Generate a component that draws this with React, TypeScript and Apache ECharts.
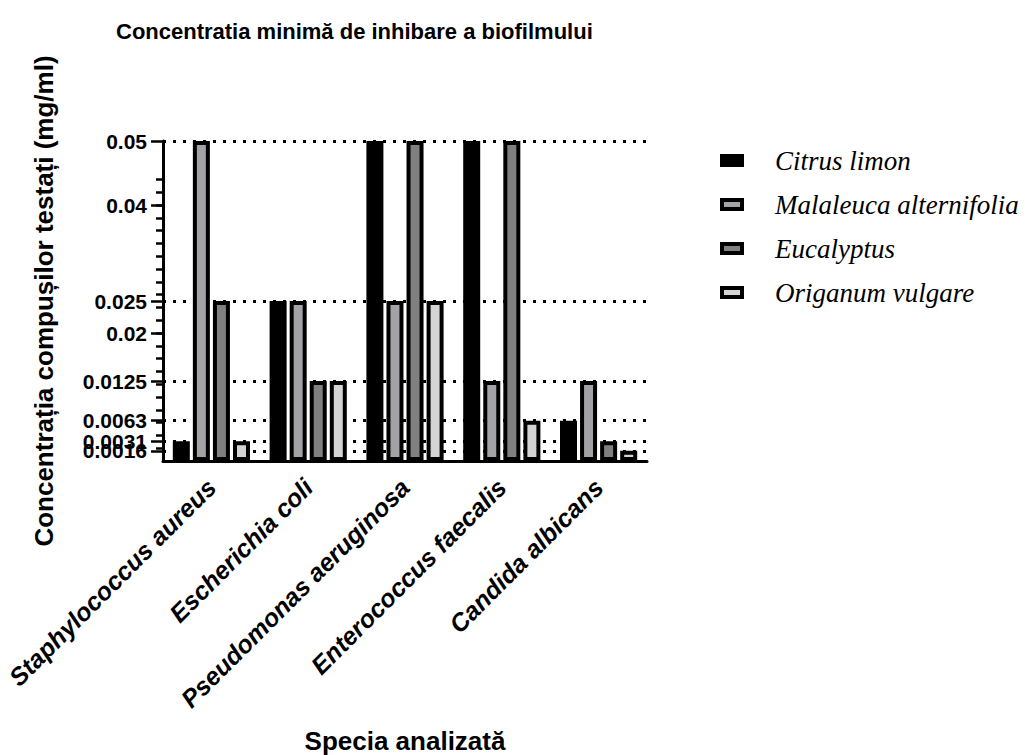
import React, { useEffect, useRef } from "react";
import * as echarts from "echarts";

const categories = [
  "Staphylococcus aureus",
  "Escherichia coli",
  "Pseudomonas aeruginosa",
  "Enterococcus faecalis",
  "Candida albicans",
];
const seriesNames = ["Citrus limon", "Malaleuca alternifolia", "Eucalyptus", "Origanum vulgare"];
const citrusLimon = [0.0031, 0.025, 0.05, 0.05, 0.0063];
const malaleuca = [0.05, 0.025, 0.025, 0.0125, 0.0125];
const eucalyptus = [0.025, 0.0125, 0.05, 0.05, 0.0031];
const origanum = [0.0031, 0.0125, 0.025, 0.0063, 0.0016];
const seriesColors = ["#000000", "#a2a2a7", "#808080", "#d4d4d4"];

const yTickLabels = [0.0016, 0.0031, 0.0063, 0.0125, 0.02, 0.025, 0.04, 0.05];
const yMinorTicks = [
  0.002, 0.004, 0.006, 0.008, 0.01, 0.012, 0.014, 0.016, 0.018, 0.02, 0.022,
  0.024, 0.026, 0.028, 0.03, 0.032, 0.034, 0.036, 0.038, 0.04, 0.042, 0.044,
];
const dottedLevels = [0.0016, 0.0031, 0.0063, 0.0125, 0.025, 0.05];

const SANS = "'Liberation Sans', Arial, sans-serif";
const SERIF = "'Liberation Serif', 'Times New Roman', serif";

export default function App() {
  const ref = useRef<HTMLDivElement>(null);
  useEffect(() => {
    const chart = echarts.init(ref.current!, null, { renderer: "svg" });
    const values = [citrusLimon, malaleuca, eucalyptus, origanum];
    const option: any = {
      animation: false,
      backgroundColor: "#ffffff",
      title: {
        text: "Concentratia minimă de inhibare a biofilmului",
        left: 116,
        top: 20,
        padding: 0,
        textStyle: { fontFamily: SANS, fontWeight: "bold", fontSize: 22, color: "#000" },
      },
      legend: {
        orient: "vertical",
        left: 720,
        top: 147,
        padding: 0,
        itemWidth: 20,
        itemHeight: 9,
        itemGap: 17,
        icon: "rect",
        selectedMode: false,
        itemStyle: { borderColor: "#000", borderWidth: 4 },
        textStyle: {
          fontFamily: SERIF,
          fontStyle: "italic",
          fontSize: 27,
          color: "#000",
          padding: [0, 0, 0, 28],
        },
        data: seriesNames,
      },
      grid: { left: 163, top: 141, right: 378, bottom: 294, containLabel: false },
      xAxis: {
        type: "category",
        data: categories,
        name: "Specia analizată",
        nameLocation: "middle",
        nameGap: 267,
        nameTextStyle: { fontFamily: SANS, fontWeight: "bold", fontSize: 26, color: "#000" },
        axisLine: { lineStyle: { color: "#000", width: 3 } },
        axisTick: { alignWithLabel: true, length: 14, lineStyle: { color: "#000", width: 2.5 } },
        axisLabel: {
          interval: 0,
          rotate: 45,
          margin: 22,
          fontFamily: SANS,
          fontWeight: "bold",
          fontStyle: "italic",
          fontSize: 25,
          color: "#000",
        },
        splitLine: { show: false },
      },
      yAxis: [
        {
          type: "value",
          min: 0,
          max: 0.05,
          position: "left",
          name: "Concentrația compușilor testați (mg/ml)",
          nameLocation: "middle",
          nameGap: 106,
          nameTextStyle: { fontFamily: SANS, fontWeight: "bold", fontSize: 26, color: "#000" },
          axisLine: { show: true, lineStyle: { color: "#000", width: 3 } },
          axisTick: {
            show: true,
            length: 12,
            customValues: yTickLabels,
            lineStyle: { color: "#000", width: 2.5 },
          },
          axisLabel: {
            customValues: [0, ...yTickLabels],
            hideOverlap: false,
            margin: 16,
            fontFamily: SANS,
            fontWeight: "bold",
            fontSize: 21,
            color: "#000",
            formatter: (v: number) => (v === 0 ? "" : String(v)),
          },
          splitLine: { show: false },
        },
        {
          type: "value",
          min: 0,
          max: 0.05,
          position: "left",
          offset: 0,
          axisLine: { show: false },
          axisTick: {
            show: true,
            length: 7,
            customValues: yMinorTicks,
            lineStyle: { color: "#000", width: 2.5 },
          },
          axisLabel: { show: false },
          splitLine: { show: false },
        },
      ],
      series: seriesNames.map((name, i) => ({
        type: "bar",
        name,
        data: values[i],
        yAxisIndex: 0,
        barWidth: 17,
        barGap: "18%",
        z: 2,
        itemStyle: { color: seriesColors[i], borderColor: "#000", borderWidth: 4 },
        emphasis: { disabled: true },
        markLine:
          i === 0
            ? {
                silent: true,
                z: 1,
                precision: 6,
                symbol: "none",
                label: { show: false },
                lineStyle: { color: "#000", type: [3, 7], width: 3 },
                data: dottedLevels.map((v) => ({ yAxis: v })),
              }
            : undefined,
      })),
    };
    chart.setOption(option);
    return () => chart.dispose();
  }, []);
  return (
    <div
      ref={ref}
      style={{ position: "fixed", left: 0, top: 0, width: 1025, height: 755, background: "#fff" }}
    />
  );
}
